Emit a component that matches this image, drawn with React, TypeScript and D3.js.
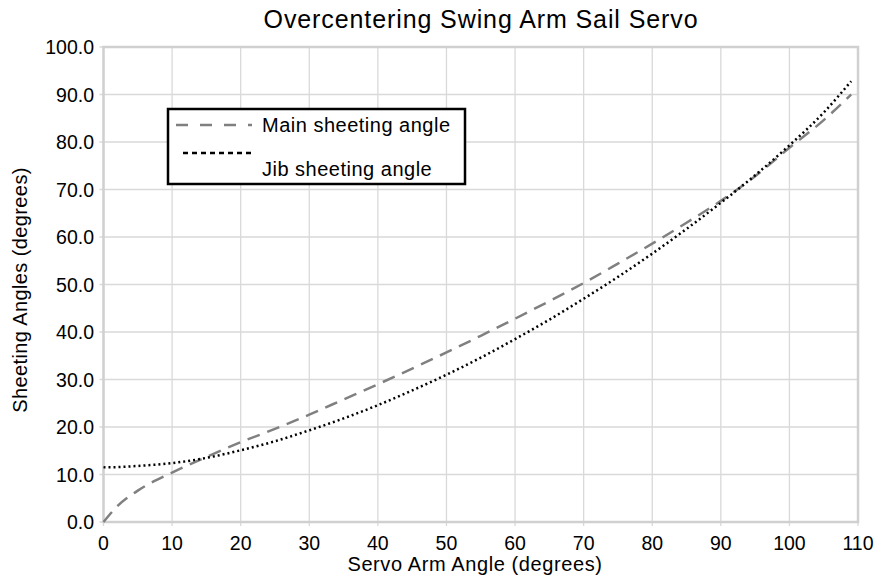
import React from "react";
import * as d3 from "d3";

const xValues = [0, 2, 5, 10, 15, 20, 25, 30, 35, 40, 45, 50, 55, 60, 65, 70, 75, 80, 85, 90, 95, 100, 105, 109];
const mainAngle = [0, 3.3, 6.6, 10.4, 13.7, 16.8, 19.6, 22.6, 25.8, 29.0, 32.3, 35.7, 39.2, 42.8, 46.5, 50.3, 54.4, 58.6, 63.0, 67.6, 72.8, 78.8, 84.6, 90.0];
const jibAngle = [11.5, 11.55, 11.8, 12.4, 13.5, 15.1, 17.0, 19.3, 21.8, 24.6, 27.7, 31.0, 34.6, 38.5, 42.6, 47.0, 51.6, 56.5, 61.7, 67.2, 73.0, 79.3, 86.2, 92.8];
const xTicks = [0, 10, 20, 30, 40, 50, 60, 70, 80, 90, 100, 110];
const yTicks = [0, 10, 20, 30, 40, 50, 60, 70, 80, 90, 100];

const W = 881, H = 577;
const L = 103.5, R = 858, T = 47, B = 522;
const font = "Liberation Sans, Arial, sans-serif";

export default function App() {
  const x = d3.scaleLinear().domain([0, 110]).range([L, R]);
  const y = d3.scaleLinear().domain([0, 100]).range([B, T]);
  const line = d3.line<number>().x((_, i) => x(xValues[i])).y((d) => y(d)).curve(d3.curveMonotoneX);

  return (
    <svg width={W} height={H} style={{ position: "absolute", left: 0, top: 0, background: "#fff" }} fontFamily={font}>
      <text x={481} y={28} textAnchor="middle" fontSize={25} letterSpacing={0.9} fill="#000">Overcentering Swing Arm Sail Servo</text>
      {xTicks.map((t) => (
        <line key={"gx" + t} x1={x(t)} x2={x(t)} y1={T} y2={B + 4} stroke="#d9d9d9" strokeWidth={1.3} />
      ))}
      {yTicks.map((t) => (
        <line key={"gy" + t} x1={L - 4} x2={R} y1={y(t)} y2={y(t)} stroke="#d9d9d9" strokeWidth={1.3} />
      ))}
      <rect x={L} y={T} width={R - L} height={B - T} fill="none" stroke="#d0d0d0" strokeWidth={2.5} />
      {yTicks.map((t) => (
        <text key={"ly" + t} x={94} y={y(t) + 7} textAnchor="end" fontSize={19.5} fill="#000">{t.toFixed(1)}</text>
      ))}
      {xTicks.map((t) => (
        <text key={"lx" + t} x={x(t)} y={550} textAnchor="middle" fontSize={19.5} fill="#000">{t}</text>
      ))}
      <text x={475} y={571} textAnchor="middle" fontSize={20} letterSpacing={0.6} fill="#000">Servo Arm Angle (degrees)</text>
      <text transform={`translate(27,${290}) rotate(-90)`} textAnchor="middle" fontSize={20} letterSpacing={0.4} fill="#000">Sheeting Angles (degrees)</text>
      <path d={line(mainAngle) || ""} fill="none" stroke="#808080" strokeWidth={2.5} strokeDasharray="13,8" />
      <path d={line(jibAngle) || ""} fill="none" stroke="#000" strokeWidth={2.5} strokeDasharray="2,3" />
      <rect x={168} y={109} width={297} height={75} fill="#fff" stroke="#000" strokeWidth={2.5} />
      <line x1={176} x2={252} y1={125} y2={125} stroke="#808080" strokeWidth={2.5} strokeDasharray="12,12" />
      <text x={262} y={132} fontSize={20} letterSpacing={0.5} fill="#000">Main sheeting angle</text>
      <line x1={183} x2={252} y1={153} y2={153} stroke="#000" strokeWidth={2.5} strokeDasharray="5,4" />
      <text x={262} y={176} fontSize={20} letterSpacing={0.5} fill="#000">Jib sheeting angle</text>
    </svg>
  );
}
